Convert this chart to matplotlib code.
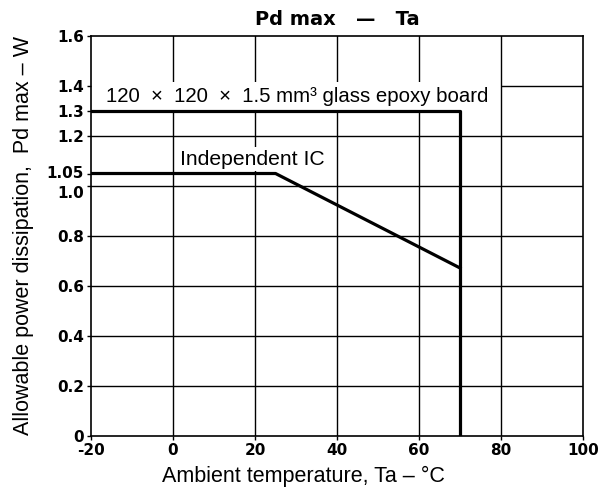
import numpy as np
import matplotlib.pyplot as plt
import matplotlib.transforms as mtransforms

# --- DATA ---
board_x = [-20, 70, 70]
board_y = [1.3, 1.3, 0.0]
ic_x = [-20, 25, 70]
ic_y = [1.05, 1.05, 0.672]

x_ticks = [-20, 0, 20, 40, 60, 80, 100]
y_ticks = [0, 0.2, 0.4, 0.6, 0.8, 1.0, 1.05, 1.2, 1.3, 1.4, 1.6]
y_tick_labels = ['0', '0.2', '0.4', '0.6', '0.8', '1.0', '1.05', '1.2', '1.3', '1.4', '1.6']
grid_y = [0.2, 0.4, 0.6, 0.8, 1.0, 1.2]
grid_x = [0, 20, 40, 60, 80]

fig = plt.figure(figsize=(6.07, 4.88), dpi=100)
ax = fig.add_axes([0.15, 0.1066, 0.8105, 0.8196])

for gy in grid_y:
    ax.axhline(gy, color='black', linewidth=1.0, zorder=1)
for gx in grid_x:
    ax.axvline(gx, color='black', linewidth=1.0, zorder=1)
# 1.4 line only shows right of the board label
ax.hlines(1.4, 80, 100, color='black', linewidth=1.0, zorder=1)

ax.plot(board_x, board_y, color='black', linewidth=2.3, zorder=3)
ax.plot(ic_x, ic_y, color='black', linewidth=2.3, zorder=3)

ax.text(-16.3, 1.36, '120  ×  120  ×  1.5 mm³ glass epoxy board',
        fontsize=14.7, family='Liberation Sans', va='center', ha='left',
        bbox=dict(facecolor='white', edgecolor='none', pad=3), zorder=2)
ax.text(1.6, 1.108, 'Independent IC', fontsize=15.2, family='Liberation Sans',
        va='center', ha='left',
        bbox=dict(facecolor='white', edgecolor='none', pad=2), zorder=2)

ax.set_xlim(-20, 100)
ax.set_ylim(0, 1.6)
ax.set_xticks(x_ticks)
ax.set_xticklabels([str(v) for v in x_ticks])
ax.set_yticks(y_ticks)
ax.set_yticklabels(y_tick_labels)
ax.tick_params(axis='both', labelsize=11, length=3, width=1, direction='out', pad=2)
for lab in ax.get_xticklabels() + ax.get_yticklabels():
    lab.set_fontweight('bold')
    lab.set_family('DejaVu Sans')

# nudge 1.0 and 1.05 apart like the original
ylabs = ax.get_yticklabels()
ylabs[5].set_transform(ylabs[5].get_transform() + mtransforms.ScaledTranslation(0, -4 / 72, fig.dpi_scale_trans))
ylabs[6].set_transform(ylabs[6].get_transform() + mtransforms.ScaledTranslation(0, 1 / 72, fig.dpi_scale_trans))

for s in ax.spines.values():
    s.set_linewidth(1.2)

ax.set_xlabel('Ambient temperature, Ta – °C', fontsize=15.5, family='Liberation Sans', labelpad=1)
ax.xaxis.set_label_coords(0.431, -0.075)
ax.set_ylabel('Allowable power dissipation,  Pd max – W', fontsize=15.5, family='Liberation Sans', labelpad=9)
ax.set_title('Pd max   —   Ta', fontsize=14, fontweight='bold', family='DejaVu Sans', pad=8, x=0.5)

fig.savefig('out.png', dpi=100)
